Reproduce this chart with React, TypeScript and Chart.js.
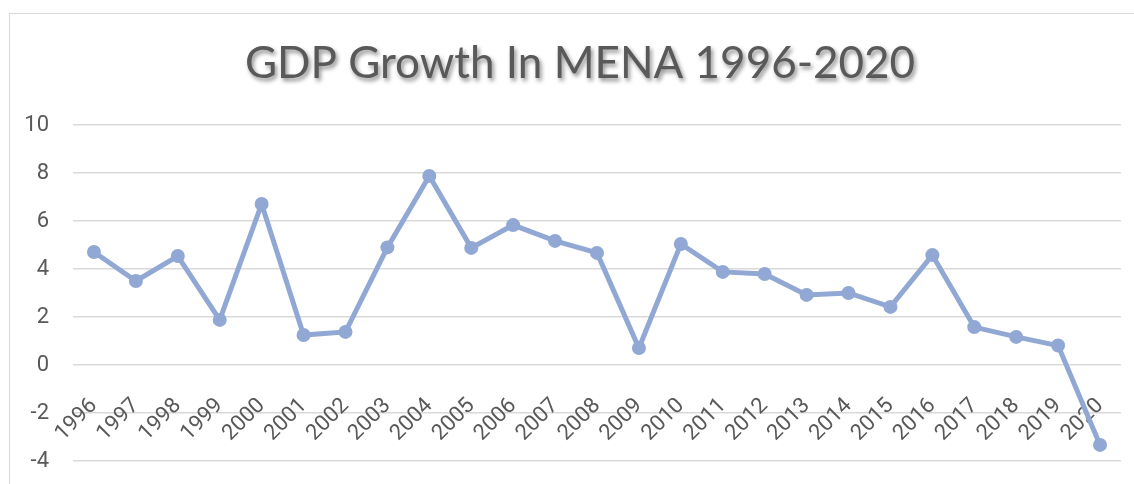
import React, { useEffect, useRef } from "react";
import { Chart, registerables } from "chart.js";

Chart.register(...registerables);

const TITLE = "GDP Growth In MENA 1996-2020";
const YEARS = [
  "1996", "1997", "1998", "1999", "2000", "2001", "2002", "2003", "2004",
  "2005", "2006", "2007", "2008", "2009", "2010", "2011", "2012", "2013",
  "2014", "2015", "2016", "2017", "2018", "2019", "2020",
];
const GDP_GROWTH = [
  4.71, 3.5, 4.54, 1.88, 6.71, 1.25, 1.38, 4.9, 7.88,
  4.88, 5.83, 5.17, 4.67, 0.71, 5.04, 3.88, 3.79, 2.92,
  3.0, 2.42, 4.58, 1.58, 1.17, 0.81, -3.33,
];
const Y_MIN = -4;
const Y_MAX = 10;
const Y_STEP = 2;

const TEXT_COLOR = "#595959";
const LINE_COLOR = "#91A8D4";
const GRID_COLOR = "#d9d9d9";

const titlePlugin = {
  id: "shadowTitle",
  afterDraw(chart: any) {
    const ctx = chart.ctx as CanvasRenderingContext2D;
    ctx.save();
    ctx.font = "44px Lato, 'Noto Sans', sans-serif";
    ctx.fillStyle = TEXT_COLOR;
    ctx.textAlign = "center";
    ctx.textBaseline = "alphabetic";
    ctx.shadowColor = "rgba(0,0,0,0.45)";
    ctx.shadowBlur = 4;
    ctx.shadowOffsetX = 2;
    ctx.shadowOffsetY = 3;
    ctx.fillText(TITLE, 580, 78);
    ctx.restore();
  },
};

export default function App() {
  const ref = useRef<HTMLCanvasElement | null>(null);

  useEffect(() => {
    if (!ref.current) return;
    const chart = new Chart(ref.current, {
      type: "line",
      data: {
        labels: YEARS,
        datasets: [
          {
            label: "GDP Growth",
            data: GDP_GROWTH,
            borderColor: LINE_COLOR,
            backgroundColor: LINE_COLOR,
            borderWidth: 5,
            pointRadius: 7,
            pointBorderWidth: 0,
            pointBackgroundColor: LINE_COLOR,
            tension: 0,
            fill: false,
          },
        ],
      },
      options: {
        animation: false,
        responsive: false,
        devicePixelRatio: 1,
        layout: { padding: { top: 125, right: 13, bottom: 23, left: 0 } },
        plugins: {
          legend: { display: false },
          title: { display: false },
          tooltip: { enabled: false },
        },
        scales: {
          x: {
            type: "category",
            position: { y: 0 } as any,
            offset: true,
            afterFit: (s: any) => {
              s.paddingLeft = 0;
              s.paddingRight = 0;
            },
            grid: { display: false, drawTicks: false },
            border: { display: false },
            ticks: {
              autoSkip: false,
              maxRotation: 45,
              minRotation: 45,
              padding: 28,
              color: TEXT_COLOR,
              font: { family: "Roboto, 'Noto Sans', sans-serif", size: 22 },
            },
          },
          y: {
            min: Y_MIN,
            max: Y_MAX,
            afterFit: (s: any) => {
              s.width = 73;
              s.paddingTop = 0;
              s.paddingBottom = 0;
            },
            grid: { color: GRID_COLOR, lineWidth: 1.5, drawTicks: false },
            border: { display: false },
            ticks: {
              stepSize: Y_STEP,
              padding: 24,
              color: TEXT_COLOR,
              font: { family: "Roboto, 'Noto Sans', sans-serif", size: 22 },
            },
          },
        },
      },
      plugins: [titlePlugin],
    });
    return () => chart.destroy();
  }, []);

  return (
    <div
      style={{
        position: "fixed",
        left: 0,
        top: 0,
        width: 1134,
        height: 484,
        overflow: "hidden",
        background: "#ffffff",
      }}
    >
      <div
        style={{
          position: "absolute",
          left: 9,
          top: 13,
          width: 1200,
          height: 600,
          borderLeft: "1px solid #d9d9d9",
          borderTop: "1px solid #d9d9d9",
        }}
      />
      <canvas
        ref={ref}
        width={1134}
        height={484}
        style={{ position: "absolute", left: 0, top: 0, width: 1134, height: 484 }}
      />
    </div>
  );
}
